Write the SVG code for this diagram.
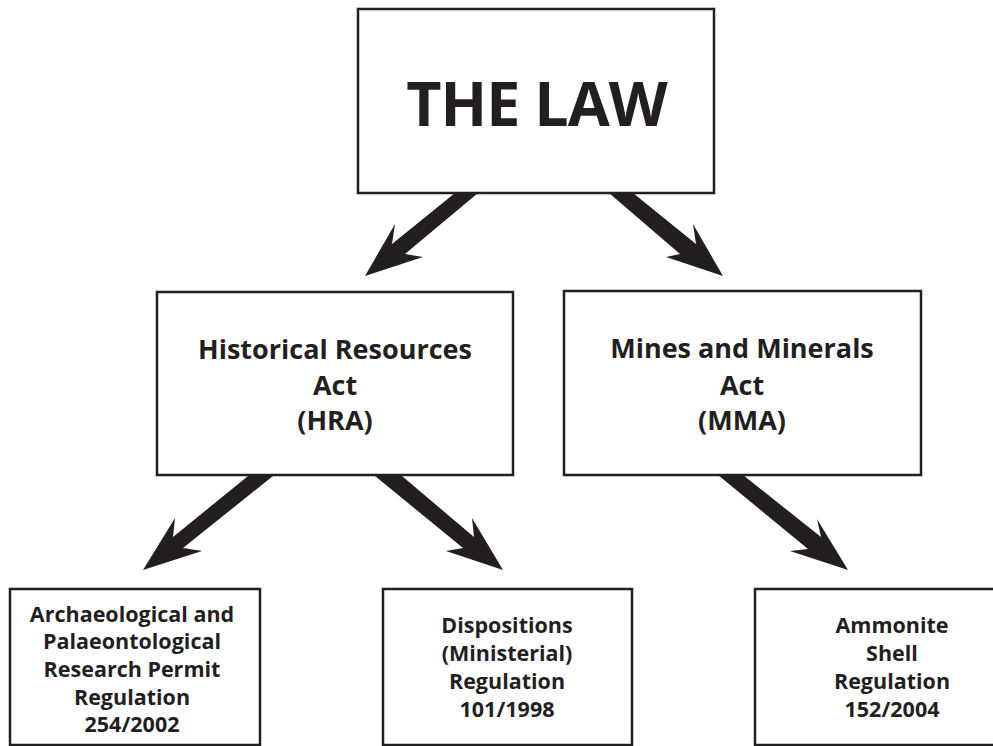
<svg xmlns="http://www.w3.org/2000/svg" width="993" height="746" viewBox="0 0 993 746">
<style>
.box{fill:#ffffff;stroke:#231f20;stroke-width:2.5}
.t{font-family:"Open Sans","Liberation Sans",sans-serif;font-weight:bold;fill:#231f20;text-anchor:middle}
.arrow{fill:#231f20;stroke:none}
</style>
<rect width="993" height="746" fill="#ffffff"/>
<g id="connectors">
<polygon class="arrow" points="455,193 392,244 395,224 365,276 423,257 405,254 478,193"/>
<polygon class="arrow" points="609,193 680,254 666,257 723,276 693,224 696,244 633,193"/>
<polygon class="arrow" points="248,476 173,537 175,518 143,570 202,551 183,548 273,476"/>
<polygon class="arrow" points="375,476 463,548 446,551 503,570 472,518 474,537 402,476"/>
<polygon class="arrow" points="718,475 808,549 790,551 848,570 817,519 821,537 743,475"/>
</g>
<g id="law">
<rect class="box" x="358" y="9" width="356" height="184"/>
<text class="t" x="536.5" y="126" font-size="61" letter-spacing="-1">THE LAW</text>
</g>
<g id="hra">
<rect class="box" x="157" y="292" width="356" height="183"/>
<text class="t" font-size="27"><tspan x="335" y="359">Historical Resources</tspan><tspan x="335" y="395">Act</tspan><tspan x="335" y="430">(HRA)</tspan></text>
</g>
<g id="mma">
<rect class="box" x="564" y="291" width="357" height="184"/>
<text class="t" font-size="27"><tspan x="742" y="358">Mines and Minerals</tspan><tspan x="742" y="395">Act</tspan><tspan x="742" y="430">(MMA)</tspan></text>
</g>
<g id="apr">
<rect class="box" x="10" y="589" width="250" height="156"/>
<text class="t" font-size="21.5"><tspan x="132" y="622">Archaeological and</tspan><tspan x="132" y="649">Palaeontological</tspan><tspan x="132" y="677">Research Permit</tspan><tspan x="132" y="705">Regulation</tspan><tspan x="132" y="732">254/2002</tspan></text>
</g>
<g id="dmr">
<rect class="box" x="383" y="589" width="249" height="156"/>
<text class="t" font-size="21.5"><tspan x="507" y="633">Dispositions</tspan><tspan x="507" y="661">(Ministerial)</tspan><tspan x="507" y="689">Regulation</tspan><tspan x="507" y="717">101/1998</tspan></text>
</g>
<g id="asr">
<rect class="box" x="755" y="589" width="275" height="156"/>
<text class="t" font-size="21.5"><tspan x="892" y="633">Ammonite</tspan><tspan x="892" y="661">Shell</tspan><tspan x="892" y="689">Regulation</tspan><tspan x="892" y="717">152/2004</tspan></text>
</g>
</svg>
